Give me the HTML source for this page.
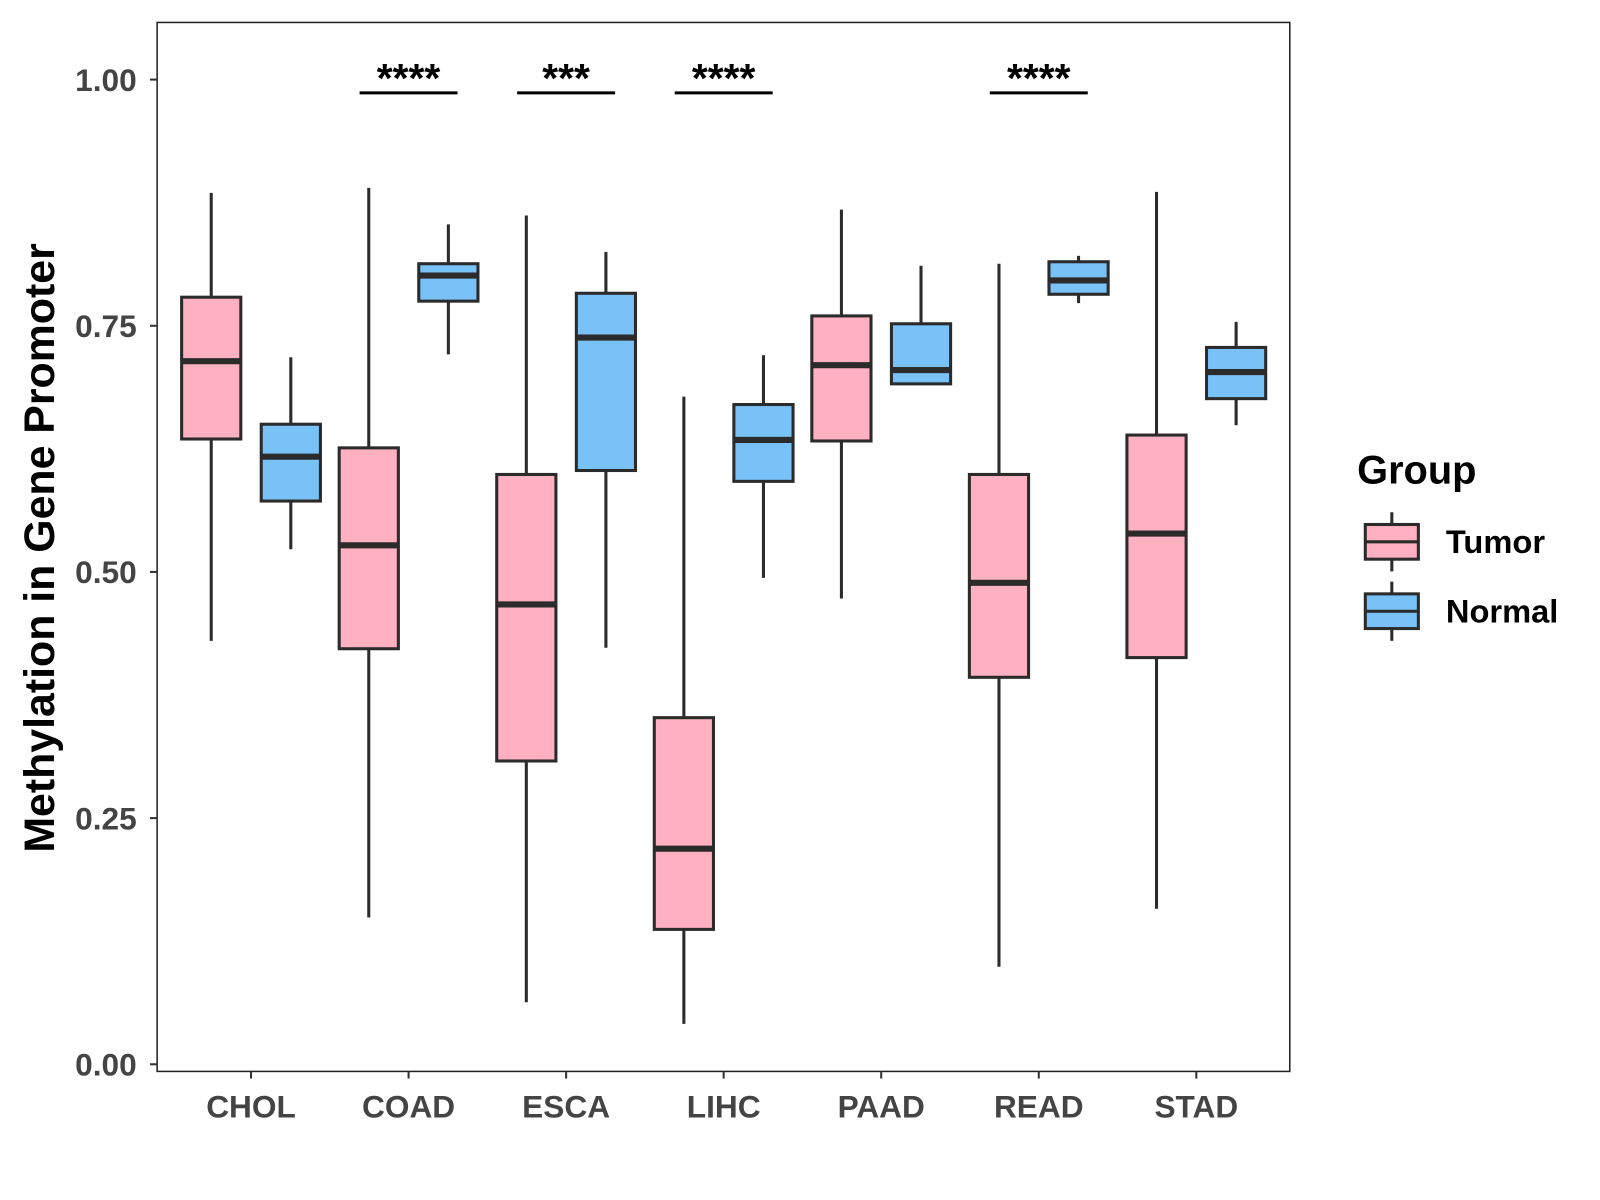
<!DOCTYPE html>
<html><head><meta charset="utf-8"><style>
body{margin:0;background:#fff;}
svg{display:block;font-family:"Liberation Sans",Arial,sans-serif;}
</style></head><body>
<svg id="chart" width="1600" height="1200" viewBox="0 0 1600 1200"><g id="root" transform="scale(1.0204)"></g></svg>
<script>
const categories=["CHOL","COAD","ESCA","LIHC","PAAD","READ","STAD"];
const groups=["Tumor","Normal"];
// [low, q1, median, q3, high]
const tumorStats=[
[0.430,0.635,0.714,0.779,0.885],
[0.149,0.422,0.527,0.626,0.890],
[0.063,0.308,0.467,0.599,0.862],
[0.041,0.137,0.219,0.352,0.678],
[0.473,0.633,0.710,0.760,0.868],
[0.099,0.393,0.489,0.599,0.813],
[0.158,0.413,0.539,0.639,0.886]];
const normalStats=[
[0.523,0.572,0.617,0.650,0.718],
[0.721,0.775,0.801,0.813,0.853],
[0.423,0.603,0.738,0.783,0.825],
[0.494,0.592,0.634,0.670,0.720],
[0.691,0.691,0.705,0.752,0.811],
[0.773,0.782,0.796,0.815,0.821],
[0.649,0.676,0.703,0.728,0.754]];
const sigLabels=["","****","***","****","","****",""];
const yTicks=[0,0.25,0.5,0.75,1.0];
const yTickLabels=["0.00","0.25","0.50","0.75","1.00"];
const colors=["#FFB0C1","#79C2F7"];

const NS="http://www.w3.org/2000/svg";
const svg=document.getElementById("root");
function el(tag,attrs,parent){const e=document.createElementNS(NS,tag);for(const k in attrs)e.setAttribute(k,attrs[k]);(parent||svg).appendChild(e);return e;}
const P={l:154,r:1264,t:22,b:1050};
const y=v=>1043-v*965;
const x=i=>246+i*154.4;
const off=39, bw=58;

const panel=el("rect",{x:P.l,y:P.t,width:P.r-P.l,height:P.b-P.t,fill:"#fff",stroke:"#222","stroke-width":1.5});



yTicks.forEach((t,i)=>{
  const tk=el("line",{x1:P.l-7,x2:P.l,y1:y(t),y2:y(t),stroke:"#333","stroke-width":2});
  
  
  const tx=el("text",{x:P.l-20,y:y(t)+11,"text-anchor":"end","font-size":31,"font-weight":"bold",fill:"#444"});
  tx.textContent=yTickLabels[i];
  
  
});
categories.forEach((c,i)=>{
  const tk=el("line",{x1:x(i),x2:x(i),y1:P.b,y2:P.b+7,stroke:"#333","stroke-width":2});
  
  
  const tx=el("text",{x:x(i),y:1095,"text-anchor":"middle","font-size":31,"font-weight":"bold",fill:"#444"});
  tx.textContent=c;
  
  
});
function drawBox(s,cx,fill,name){
  const g=el("g",{});
  
  
  el("line",{x1:cx,x2:cx,y1:y(s[0]),y2:y(s[4]),stroke:"#2b2b2b","stroke-width":3},g);
  el("rect",{x:cx-bw/2,y:y(s[3]),width:bw,height:y(s[1])-y(s[3]),fill:fill,stroke:"#2b2b2b","stroke-width":3},g);
  el("line",{x1:cx-bw/2,x2:cx+bw/2,y1:y(s[2]),y2:y(s[2]),stroke:"#2b2b2b","stroke-width":6},g);
}
categories.forEach((c,i)=>{
  drawBox(tumorStats[i],x(i)-off,colors[0],"box-tumor-"+c.toLowerCase());
  drawBox(normalStats[i],x(i)+off,colors[1],"box-normal-"+c.toLowerCase());
  if(sigLabels[i]){
    const ln=el("line",{x1:x(i)-48,x2:x(i)+48,y1:91,y2:91,stroke:"#000","stroke-width":3});
    
    
    const tx=el("text",{x:x(i),y:90,"text-anchor":"middle","font-size":40,"font-weight":"bold",fill:"#000"});
    tx.textContent=sigLabels[i];
    
    
  }
});
const yt=el("text",{x:0,y:0,transform:"translate(53,537) rotate(-90)","text-anchor":"middle","font-size":42,"font-weight":"bold",fill:"#000"});
yt.textContent="Methylation in Gene Promoter";



const lt=el("text",{x:1330,y:474,"font-size":39,"font-weight":"bold",fill:"#000"});
lt.textContent="Group";


groups.forEach((gname,i)=>{
  const cy=531+i*68;
  const g=el("g",{});
  
  
  el("line",{x1:1364,x2:1364,y1:cy-29,y2:cy+29,stroke:"#2b2b2b","stroke-width":3},g);
  el("rect",{x:1338,y:cy-17,width:52,height:34,fill:colors[i],stroke:"#2b2b2b","stroke-width":3},g);
  el("line",{x1:1338,x2:1390,y1:cy,y2:cy,stroke:"#2b2b2b","stroke-width":3},g);
  const t=el("text",{x:1417,y:cy+11,"font-size":32,"font-weight":"bold",fill:"#000"},g);
  t.textContent=gname;
});
</script>
</body></html>
